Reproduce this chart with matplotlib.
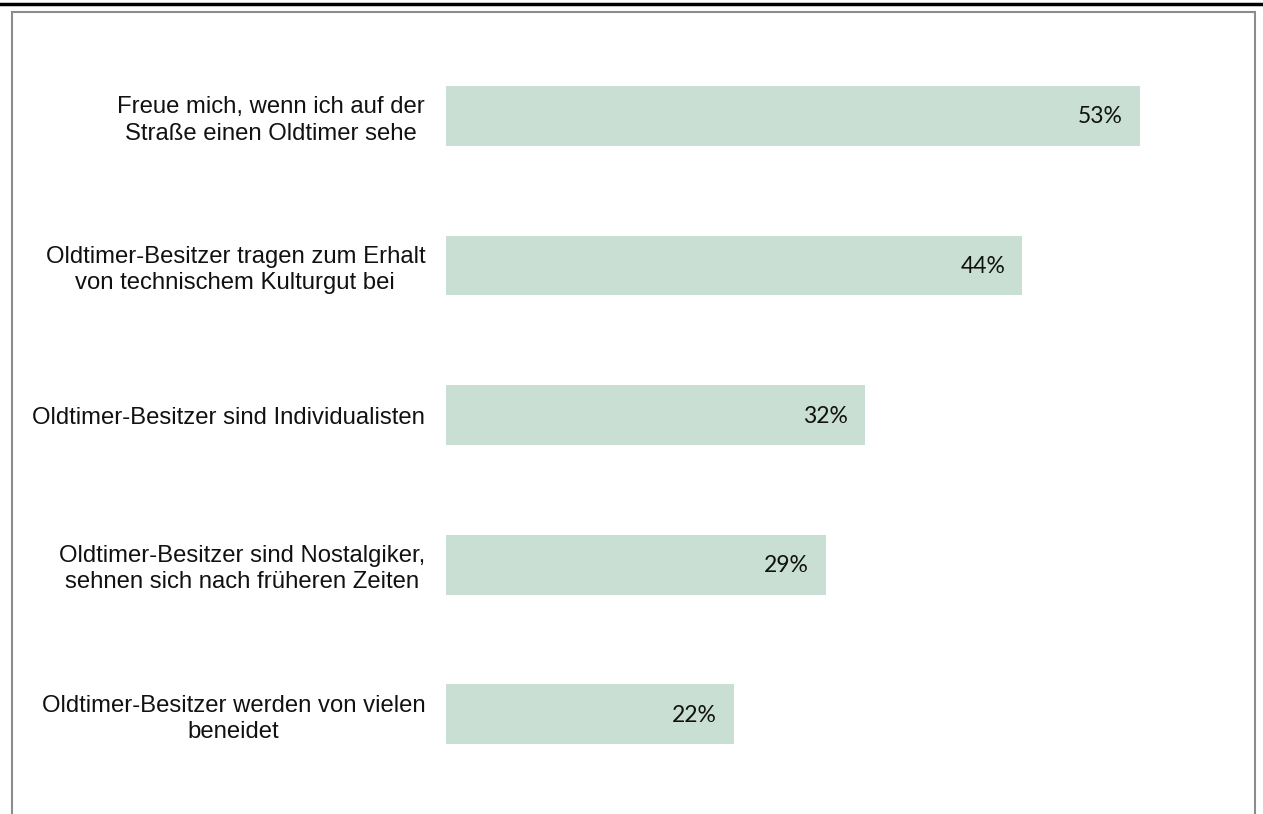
import matplotlib.pyplot as plt
from matplotlib.patches import Rectangle
from matplotlib.lines import Line2D

categories = [
    "Freue mich, wenn ich auf der\nStraße einen Oldtimer sehe",
    "Oldtimer-Besitzer tragen zum Erhalt\nvon technischem Kulturgut bei",
    "Oldtimer-Besitzer sind Individualisten",
    "Oldtimer-Besitzer sind Nostalgiker,\nsehnen sich nach früheren Zeiten",
    "Oldtimer-Besitzer werden von vielen\nbeneidet",
]
values = [53, 44, 32, 29, 22]

W, H = 1263, 814
fig = plt.figure(figsize=(W / 100, H / 100), dpi=100)

# axes placed in pixel terms: bar base at x=446, 53% ends at x=1140
x0, x1 = 446, 1140
y_top, y_bot = 41, 819  # so that bar centres land at 116 ... 714
ax = fig.add_axes([x0 / W, 1 - y_bot / H, (x1 - x0) / W, (y_bot - y_top) / H])

pos = list(range(len(values)))
ax.barh(pos, values, height=0.4, color="#c9dfd3", edgecolor="none")
ax.set_xlim(0, 53)
ax.set_ylim(len(values) - 0.5 + 0.2, -0.5)

for p, v in zip(pos, values):
    ax.annotate(f"{v}%", xy=(v, p), xytext=(-17, -1), textcoords="offset pixels",
                ha="right", va="center", fontsize=16.5, family="Lato", color="#111111")

ax.set_yticks(pos)
ax.set_yticklabels(categories, fontsize=17.2, family="Liberation Sans", color="#111111",
                   linespacing=1.25)
for lab in ax.get_yticklabels():
    lab.set_multialignment("center")
ax.tick_params(axis="y", length=0, pad=15)
ax.set_xticks([])
for s in ax.spines.values():
    s.set_visible(False)

# outer frame and top rule
fig.add_artist(Rectangle((12 / W, -0.1), (1255 - 12) / W, 1.1 - 12 / H,
                         transform=fig.transFigure, fill=False,
                         edgecolor="#8c8c8c", linewidth=1.5))
fig.add_artist(Line2D([0, 1], [1 - 4 / H, 1 - 4 / H], transform=fig.transFigure,
                      color="black", linewidth=2.5))

fig.savefig("out.png", dpi=100)
